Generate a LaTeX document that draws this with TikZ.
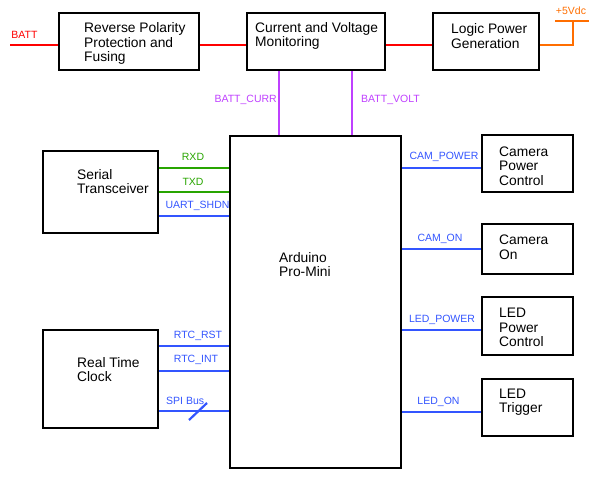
\documentclass[tikz,border=0pt]{standalone}
\usepackage{fontspec}
\setmainfont{Liberation Sans}
\begin{document}
\begin{tikzpicture}[x=1pt,y=-1pt,
  box/.style={draw=black,line width=2.5pt,rectangle,inner sep=0pt},
  btext/.style={anchor=west,align=left,inner sep=0pt,font=\fontsize{13.8}{14.6}\selectfont},
  lbl/.style={inner sep=0pt,font=\fontsize{10.5}{12}\selectfont},
  wire/.style={line width=2.2pt}]
\definecolor{cred}{RGB}{255,0,0}
\definecolor{cpur}{RGB}{191,64,255}
\definecolor{cgrn}{RGB}{40,165,0}
\definecolor{cblu}{RGB}{51,85,255}
\definecolor{corg}{RGB}{255,110,0}
\useasboundingbox (0,0) rectangle (600,478);
% boxes
\node[box,minimum width=140pt,minimum height=57pt] (rp) at (129,41.5) {};
\node[box,minimum width=138pt,minimum height=57pt] (cv) at (316,41.5) {};
\node[box,minimum width=106pt,minimum height=57pt] (lp) at (486,41.5) {};
\node[box,minimum width=115pt,minimum height=82pt] (ser) at (100.5,192) {};
\node[box,minimum width=115pt,minimum height=98pt] (rtc) at (100.5,379) {};
\node[box,minimum width=171pt,minimum height=332pt] (ard) at (315.5,302) {};
\node[box,minimum width=91pt,minimum height=57pt] (cpc) at (527.5,163.5) {};
\node[box,minimum width=91pt,minimum height=50pt] (con) at (527.5,249) {};
\node[box,minimum width=91pt,minimum height=58pt] (lpc) at (527.5,326) {};
\node[box,minimum width=91pt,minimum height=57pt] (ltr) at (527.5,407.5) {};
% box texts
\node[btext] (rpt) at (84,43.5) {Reverse Polarity\\Protection and\\Fusing};
\node[btext] (cvt) at (255,36) {Current and Voltage\\Monitoring};
\node[btext] (lpt) at (451,36) {Logic Power\\Generation};
\node[btext] (sert) at (77,181.5) {Serial\\Transceiver};
\node[btext] (rtct) at (77,369.5) {Real Time\\Clock};
\node[btext] (ardt) at (279,264.5) {Arduino\\Pro-Mini};
\node[btext] (cpct) at (499,166) {Camera\\Power\\Control};
\node[btext] (cont) at (499,247) {Camera\\On};
\node[btext] (lpct) at (499,327.5) {LED\\Power\\Control};
\node[btext] (ltrt) at (499,402) {LED\\Trigger};
% power rail
\coordinate (batt) at (10,45);
\coordinate (ry) at (0,45);
\draw[wire,cred] (batt) -- (batt -| rp.west);
\draw[wire,cred] (rp.east |- ry) -- (cv.west |- ry);
\draw[wire,cred] (cv.east |- ry) -- (lp.west |- ry);
\node[lbl,text=cred] (battl) at (24.5,35) {BATT};
\coordinate (vtop) at (573,21);
\coordinate (vl) at (555,21);
\coordinate (vr) at (589,21);
\draw[wire,corg] (lp.east |- ry) -| (vtop);
\draw[wire,corg] (vl) -- (vr);
\node[lbl,text=corg] (vdc) at (571,11) {+5Vdc};
% monitoring
\coordinate (xc) at (279,0);
\coordinate (xv) at (352,0);
\draw[wire,cpur] (xc |- cv.south) -- (xc |- ard.north);
\draw[wire,cpur] (xv |- cv.south) -- (xv |- ard.north);
\node[lbl,text=cpur,anchor=east] (bc) at (277,100) {BATT\_CURR};
\node[lbl,text=cpur,anchor=west] (bv) at (361,100) {BATT\_VOLT};
% serial
\coordinate (y1) at (0,168);
\coordinate (y2) at (0,192);
\coordinate (y3) at (0,216);
\draw[wire,cgrn] (ser.east |- y1) -- (ard.west |- y1);
\draw[wire,cgrn] (ser.east |- y2) -- (ard.west |- y2);
\draw[wire,cblu] (ser.east |- y3) -- (ard.west |- y3);
\node[lbl,text=cgrn] (rxd) at (193,157) {RXD};
\node[lbl,text=cgrn] (txd) at (193,182) {TXD};
\node[lbl,text=cblu] (ush) at (197.5,206) {UART\_SHDN};
% RTC
\coordinate (y4) at (0,346);
\coordinate (y5) at (0,371);
\coordinate (y6) at (0,411);
\draw[wire,cblu] (rtc.east |- y4) -- (ard.west |- y4);
\draw[wire,cblu] (rtc.east |- y5) -- (ard.west |- y5);
\draw[wire,cblu] (rtc.east |- y6) -- (ard.west |- y6);
\coordinate (s1) at (189,420);
\coordinate (s2) at (207,403);
\draw[wire,cblu] (s1) -- (s2);
\node[lbl,text=cblu] (rrst) at (198,336) {RTC\_RST};
\node[lbl,text=cblu] (rint) at (196,360) {RTC\_INT};
\node[lbl,text=cblu,anchor=west] (spi) at (166,401) {SPI Bus};
% right side
\coordinate (y7) at (0,168);
\coordinate (y8) at (0,249);
\coordinate (y9) at (0,330);
\coordinate (y10) at (0,412);
\draw[wire,cblu] (ard.east |- y7) -- (cpc.west |- y7);
\draw[wire,cblu] (ard.east |- y8) -- (con.west |- y8);
\draw[wire,cblu] (ard.east |- y9) -- (lpc.west |- y9);
\draw[wire,cblu] (ard.east |- y10) -- (ltr.west |- y10);
\node[lbl,text=cblu] (campw) at (444,157) {CAM\_POWER};
\node[lbl,text=cblu] (camon) at (440,239) {CAM\_ON};
\node[lbl,text=cblu] (ledpw) at (442,320) {LED\_POWER};
\node[lbl,text=cblu] (ledon) at (438.5,402) {LED\_ON};
\end{tikzpicture}
\end{document}
